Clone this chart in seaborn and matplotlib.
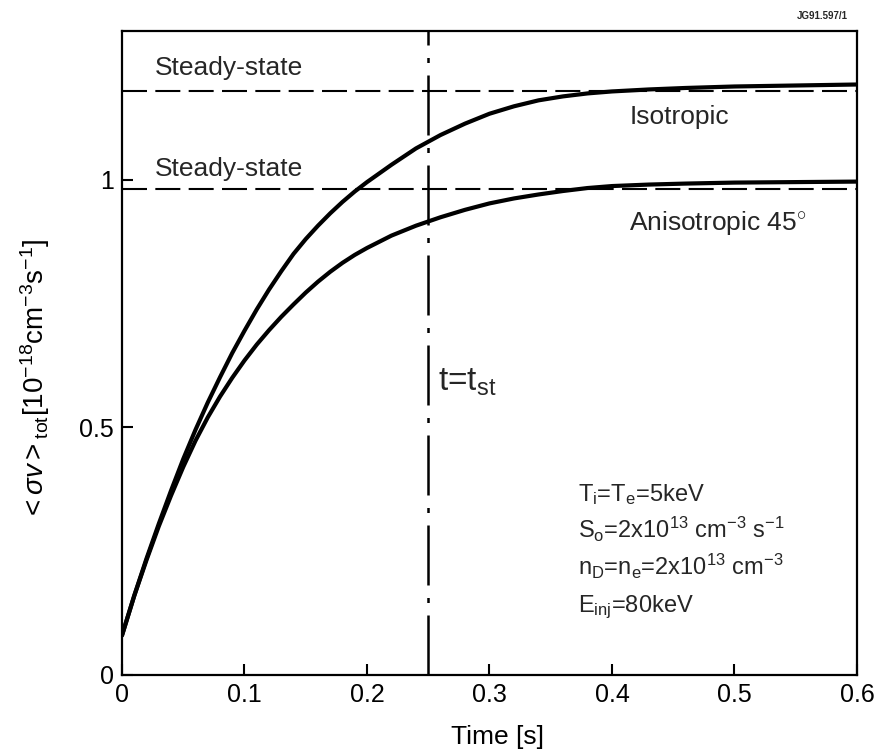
import numpy as np
import pandas as pd
import matplotlib
matplotlib.use("Agg")
import matplotlib.pyplot as plt
import seaborn as sns

# ---- data ----
iso_t = [0.0, 0.01, 0.02, 0.03, 0.04, 0.05, 0.06, 0.07, 0.08, 0.09, 0.10, 0.11, 0.12, 0.13,
         0.14, 0.15, 0.16, 0.17, 0.18, 0.19, 0.20, 0.22, 0.24, 0.26, 0.28, 0.30, 0.32, 0.34,
         0.36, 0.38, 0.40, 0.43, 0.46, 0.50, 0.55, 0.60]
iso_v = [0.08, 0.16, 0.235, 0.305, 0.372, 0.436, 0.495, 0.55, 0.601, 0.65, 0.695, 0.738, 0.778, 0.815,
         0.85, 0.88, 0.907, 0.932, 0.955, 0.976, 0.995, 1.03, 1.063, 1.09, 1.113, 1.133, 1.148, 1.16,
         1.168, 1.174, 1.178, 1.182, 1.185, 1.188, 1.19, 1.192]
ani_t = [0.0, 0.01, 0.02, 0.03, 0.04, 0.05, 0.06, 0.07, 0.08, 0.09, 0.10, 0.11, 0.12, 0.13,
         0.14, 0.15, 0.16, 0.17, 0.18, 0.19, 0.20, 0.22, 0.24, 0.26, 0.28, 0.30, 0.32, 0.34,
         0.36, 0.38, 0.40, 0.43, 0.46, 0.50, 0.55, 0.60]
ani_v = [0.08, 0.16, 0.232, 0.3, 0.362, 0.42, 0.473, 0.52, 0.562, 0.6, 0.635, 0.667, 0.696, 0.723,
         0.748, 0.772, 0.794, 0.814, 0.832, 0.848, 0.862, 0.887, 0.907, 0.924, 0.939, 0.952, 0.962, 0.97,
         0.977, 0.983, 0.987, 0.99, 0.992, 0.994, 0.995, 0.996]
steady_iso = 1.178
steady_ani = 0.982
t_st = 0.25
x_ticks = [0, 0.1, 0.2, 0.3, 0.4, 0.5, 0.6]
x_tick_labels = ["0", "0.1", "0.2", "0.3", "0.4", "0.5", "0.6"]
y_ticks = [0, 0.5, 1]
y_tick_labels = ["0", "0.5", "1"]

sns.set_theme(style="white")
plt.rcParams["font.family"] = ["Liberation Sans", "DejaVu Sans"]
plt.rcParams["mathtext.fontset"] = "custom"
plt.rcParams["mathtext.rm"] = "Liberation Sans"
plt.rcParams["mathtext.it"] = "Liberation Sans:italic"
plt.rcParams["mathtext.bf"] = "Liberation Sans:bold"

fig = plt.figure(figsize=(8.78, 7.54), dpi=100)
ax = fig.add_axes([122/878, 1-675/754, (857-122)/878, (675-31)/754])

df_iso = pd.DataFrame({"t": iso_t, "v": iso_v})
df_ani = pd.DataFrame({"t": ani_t, "v": ani_v})
sns.lineplot(data=df_iso, x="t", y="v", ax=ax, color="black", lw=3.0, sort=True)
sns.lineplot(data=df_ani, x="t", y="v", ax=ax, color="black", lw=3.0, sort=True)

ax.axhline(steady_iso, color="black", lw=1.5, dashes=(12, 4))
ax.axhline(steady_ani, color="black", lw=1.5, dashes=(12, 4))
ax.axvline(t_st, color="black", lw=1.8, dashes=(24, 5, 2, 5))

ax.set_xlim(0, 0.6)
ax.set_ylim(0, 1.30)
ax.set_xticks(x_ticks)
ax.set_xticklabels(x_tick_labels)
ax.set_yticks(y_ticks)
ax.set_yticklabels(y_tick_labels)
ax.tick_params(direction="in", length=8, width=1.5, labelsize=18, colors="black",
               bottom=True, left=True, top=False, right=False, pad=6)
for s in ax.spines.values():
    s.set_color("black")
    s.set_linewidth(1.6)

ax.set_xlabel("Time [s]", fontsize=19, color="black")
ax.xaxis.set_label_coords(0.5 + 8/735, -0.078)
ax.set_ylabel(r"$<\sigma v>_{\mathrm{tot}}[10^{-18}\mathrm{cm}^{-3}\mathrm{s}^{-1}]$",
              fontsize=20, color="black")
ax.yaxis.set_label_coords(-0.095, 0.46)

ax.text(0.027, 1.225, "Steady-state", fontsize=19, va="center", ha="left")
ax.text(0.027, 1.022, "Steady-state", fontsize=19, va="center", ha="left")
ax.text(0.414, 1.127, "Isotropic", fontsize=19, va="center", ha="left")
ax.text(0.414, 0.912, r"Anisotropic 45$^{\circ}$", fontsize=19, va="center", ha="left")
ax.text(0.258, 0.59, r"t=t$_{\mathrm{st}}$", fontsize=24, va="center", ha="left")

ann = [r"T$_{\mathrm{i}}$=T$_{\mathrm{e}}$=5keV",
       r"S$_{\mathrm{o}}$=2x10$^{13}$ cm$^{-3}$ s$^{-1}$",
       r"n$_{\mathrm{D}}$=n$_{\mathrm{e}}$=2x10$^{13}$ cm$^{-3}$",
       r"E$_{\mathrm{inj}}$=80keV"]
for i, s in enumerate(ann):
    ax.text(0.372, 0.352 - i*0.075, s, fontsize=17, va="baseline", ha="left")

fig.text(848/878, 1-16/754, "JG91.597/1", fontsize=7, fontweight="bold", ha="right", va="center")

fig.savefig("out.png", dpi=100)
